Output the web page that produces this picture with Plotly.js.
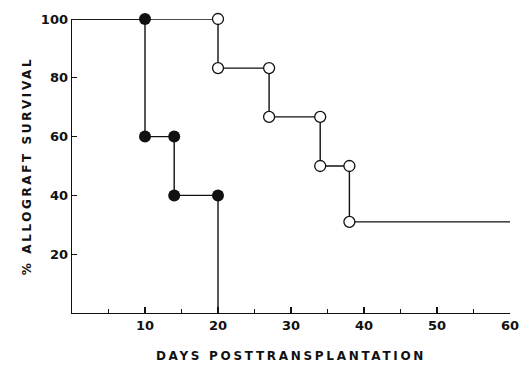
<!DOCTYPE html>
<html><head><meta charset="utf-8">
<script src="https://cdn.plot.ly/plotly-3.0.1.min.js"></script>
<style>body{margin:0;background:#fff}#c{width:519px;height:365px}</style>
</head><body><div id="c"></div>
<script>
// Group A (open circles): event days and survival after each event
const openDays = [20, 27, 34, 38];
const openSurv = [83.3, 66.7, 50, 31];
const openEnd = 60;
// Group B (filled circles)
const fillDays = [10, 14, 20];
const fillSurv = [60, 40, 0];
const xTicks = [10, 20, 30, 40, 50, 60];
const yTicks = [20, 40, 60, 80, 100];

function stepPath(days, surv, endDay) {
  const x = [0], y = [100];
  let prev = 100;
  days.forEach((d, i) => { x.push(d, d); y.push(prev, surv[i]); prev = surv[i]; });
  if (endDay !== undefined) { x.push(endDay); y.push(prev); }
  return {x, y};
}
function corners(days, surv, skipLastDrop) {
  const x = [], y = [];
  let prev = 100;
  days.forEach((d, i) => {
    x.push(d); y.push(prev);
    if (!(skipLastDrop && i === days.length - 1)) { x.push(d); y.push(surv[i]); }
    prev = surv[i];
  });
  return {x, y};
}
const oP = stepPath(openDays, openSurv, openEnd);
const fP = stepPath(fillDays, fillSurv);
const oM = corners(openDays, openSurv, false);
const fM = corners(fillDays, fillSurv, true);

const lineStyle = {color: '#111', width: 1.4};
const data = [
  {x: oP.x, y: oP.y, mode: 'lines', line: lineStyle, cliponaxis: false, hoverinfo: 'skip'},
  {x: fP.x, y: fP.y, mode: 'lines', line: lineStyle, cliponaxis: false, hoverinfo: 'skip'},
  {x: oM.x, y: oM.y, mode: 'markers', cliponaxis: false,
   marker: {size: 11, color: '#fff', line: {color: '#111', width: 1.3}}},
  {x: fM.x, y: fM.y, mode: 'markers', cliponaxis: false,
   marker: {size: 12, color: '#111', line: {color: '#111', width: 0}}}
];
const fam = 'DejaVu Sans, Arial, sans-serif';
const layout = {
  width: 519, height: 365,
  margin: {l: 72, r: 9, t: 19, b: 52},
  paper_bgcolor: '#fff', plot_bgcolor: '#fff',
  showlegend: false,
  font: {family: fam, size: 13, color: '#111'},
  xaxis: {
    range: [0, 60], showgrid: false, zeroline: false,
    showline: true, linecolor: '#111', linewidth: 1.4,
    tickvals: xTicks, ticktext: xTicks.map(String),
    ticklabeloverflow: 'allow',
    ticks: 'inside', ticklen: 6, tickcolor: '#111', tickwidth: 1.2,
    minor: {tickvals: [5, 15, 25, 35, 45, 55], ticks: 'inside', ticklen: 4, tickcolor: '#111', tickwidth: 1.2},
    tickfont: {family: fam, size: 13, color: '#111', weight: 'bold'},
    title: {text: 'DAYS POSTTRANSPLANTATION', font: {family: fam, size: 12, color: '#111', weight: 'bold'}, standoff: 19},
    automargin: false
  },
  yaxis: {
    range: [0, 100], showgrid: false, zeroline: false,
    showline: true, linecolor: '#111', linewidth: 1.4,
    tickvals: yTicks, ticktext: yTicks.map(String),
    ticks: 'inside', ticklen: 5, tickcolor: '#111', tickwidth: 1.2,
    tickfont: {family: fam, size: 13, color: '#111', weight: 'bold'},
    title: {text: '% ALLOGRAFT SURVIVAL', font: {family: fam, size: 12, color: '#111', weight: 'bold'}, standoff: 6},
    automargin: false
  }
};
Plotly.newPlot('c', data, layout, {staticPlot: true}).then(() => {
  document.querySelectorAll('.xtitle').forEach(t => { t.style.letterSpacing = '2.7px'; });
  document.querySelectorAll('.ytitle').forEach(t => { t.style.letterSpacing = '2.6px'; });
});
</script>
</body></html>
